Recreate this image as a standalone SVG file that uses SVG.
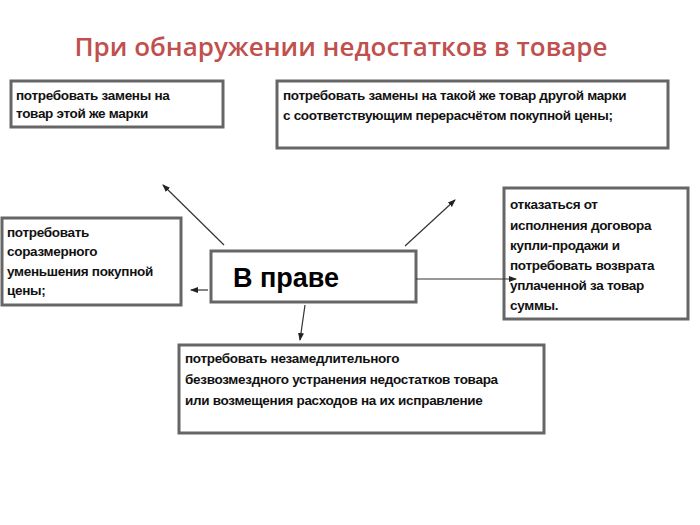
<svg xmlns="http://www.w3.org/2000/svg" width="700" height="525" viewBox="0 0 700 525">
<defs><marker id="a" markerWidth="8" markerHeight="8" refX="7" refY="4" orient="auto" markerUnits="userSpaceOnUse"><path d="M0,1 L8,4 L0,7 Z" fill="#222"/></marker></defs>
<style>
.b{fill:#fff;stroke:#666;stroke-width:3}
.t{font-family:"Liberation Sans",Arial,sans-serif;font-weight:bold;font-size:13.5px;fill:#111;letter-spacing:-0.3px}
.c{stroke:#333;stroke-width:1.2;fill:none;marker-end:url(#a)}
</style>
<rect width="700" height="525" fill="#fff"/>
<text x="341" y="56" text-anchor="middle" font-family="'Open Sans','Liberation Sans',sans-serif" font-size="26" font-weight="600" fill="#c0504d">При обнаружении недостатков в товаре</text>
<g id="n1"><rect class="b" x="11" y="81" width="212" height="46"/><text class="t" x="16" y="100">потребовать замены на</text><text class="t" x="16" y="118">товар этой же марки</text></g>
<g id="n2"><rect class="b" x="277" y="81" width="391" height="67"/><text class="t" x="283" y="100">потребовать замены на такой же товар другой марки</text><text class="t" x="283" y="120">с соответствующим перерасчётом покупной цены;</text></g>
<g id="n3"><rect class="b" x="2" y="218" width="179" height="87"/><text class="t" x="7" y="237">потребовать</text><text class="t" x="7" y="256">соразмерного</text><text class="t" x="7" y="276">уменьшения покупной</text><text class="t" x="7" y="295">цены;</text></g>
<g id="n4"><rect class="b" x="504" y="188" width="184" height="131"/><text class="t" x="510" y="209">отказаться от</text><text class="t" x="510" y="230">исполнения договора</text><text class="t" x="510" y="250">купли-продажи и</text><text class="t" x="510" y="270">потребовать возврата</text><text class="t" x="510" y="290">уплаченной за товар</text><text class="t" x="510" y="310">суммы.</text></g>
<g id="center"><rect class="b" x="211" y="251" width="205" height="51"/><text x="233" y="287" font-family="'Liberation Sans',Arial,sans-serif" font-weight="bold" font-size="27" fill="#000">В праве</text></g>
<g id="n5"><rect class="b" x="179" y="345" width="365" height="88"/><text class="t" x="185" y="363">потребовать незамедлительного</text><text class="t" x="185" y="384">безвозмездного устранения недостатков товара</text><text class="t" x="185" y="405">или возмещения расходов на их исправление</text></g>
<g id="connectors">
<line class="c" x1="224" y1="245" x2="163" y2="185"/>
<line class="c" x1="405" y1="246" x2="455" y2="200"/>
<line class="c" x1="208" y1="290" x2="191" y2="290"/>
<line class="c" x1="416" y1="279" x2="516" y2="279"/>
<line class="c" x1="305" y1="305" x2="300" y2="340"/>
</g>
</svg>
